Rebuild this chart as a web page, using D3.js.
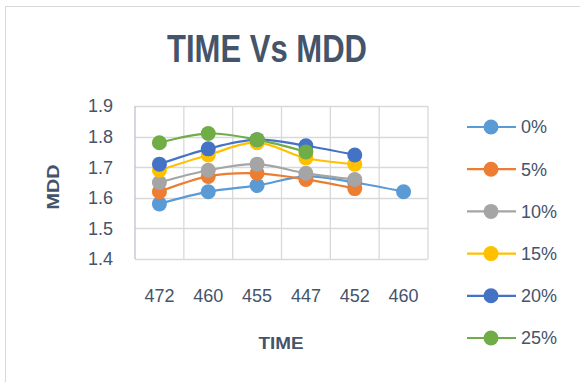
<!DOCTYPE html>
<html>
<head>
<meta charset="utf-8">
<title>TIME Vs MDD</title>
<script src="https://cdn.jsdelivr.net/npm/d3@7"></script>
<style>
  body { margin: 0; background: #fff; }
  text { font-family: "Liberation Sans", Arial, sans-serif; fill: #44546A; }
</style>
</head>
<body>
<svg width="580" height="382"></svg>
<script>
// data
var times = ["472", "460", "455", "447", "452", "460"];
var seriesNames = ["0%", "5%", "10%", "15%", "20%", "25%"];
var colors = ["#5B9BD5", "#ED7D31", "#A5A5A5", "#FFC000", "#4472C4", "#70AD47"];
var mdd0 = [1.58, 1.62, 1.64, 1.67, 1.65, 1.62];
var mdd5 = [1.62, 1.67, 1.68, 1.66, 1.63];
var mdd10 = [1.65, 1.69, 1.71, 1.68, 1.66];
var mdd15 = [1.69, 1.74, 1.78, 1.73, 1.71];
var mdd20 = [1.71, 1.76, 1.79, 1.77, 1.74];
var mdd25 = [1.78, 1.81, 1.79, 1.75];
var yTicks = [1.4, 1.5, 1.6, 1.7, 1.8, 1.9];

var allSeries = [mdd0, mdd5, mdd10, mdd15, mdd20, mdd25];

var svg = d3.select("svg");

// chart frame
svg.append("rect")
  .attr("x", 5.5).attr("y", 6.5)
  .attr("width", 620).attr("height", 420)
  .attr("fill", "none")
  .attr("stroke", "#D9D9D9");

var x = d3.scaleBand()
  .domain(d3.range(times.length))
  .range([135, 428]);

var y = d3.scaleLinear()
  .domain([1.4, 1.9])
  .range([259, 106]);

// gridlines
svg.append("g").selectAll("line.h")
  .data(yTicks)
  .enter().append("line")
  .attr("x1", 135).attr("x2", 428)
  .attr("y1", function(d) { return Math.round(y(d)) + 0.5; })
  .attr("y2", function(d) { return Math.round(y(d)) + 0.5; })
  .attr("stroke", "#D9D9D9").attr("stroke-width", 1.3);

svg.append("g").selectAll("line.v")
  .data(d3.range(times.length + 1))
  .enter().append("line")
  .attr("x1", function(i) { return i < times.length ? x(i) : x.range()[1]; })
  .attr("x2", function(i) { return i < times.length ? x(i) : x.range()[1]; })
  .attr("y1", 106).attr("y2", 259)
  .attr("stroke", function(i) { return i == 0 ? "#BFC5CE" : "#D9D9D9"; })
  .attr("stroke-width", 1.3);

// y tick labels
svg.append("g").selectAll("text")
  .data(yTicks)
  .enter().append("text")
  .attr("x", 113)
  .attr("y", function(d) { return y(d); })
  .attr("dy", "0.36em")
  .attr("text-anchor", "end")
  .attr("font-size", 18)
  .text(function(d) { return d3.format(".1f")(d); });

// x tick labels
svg.append("g").selectAll("text")
  .data(times)
  .enter().append("text")
  .attr("x", function(d, i) { return x(i) + x.bandwidth() / 2; })
  .attr("y", 296)
  .attr("dy", "0.36em")
  .attr("text-anchor", "middle")
  .attr("font-size", 18)
  .text(function(d) { return d; });

// titles
svg.append("text")
  .attr("x", 267).attr("y", 62)
  .attr("text-anchor", "middle")
  .attr("font-size", 38).attr("font-weight", "bold")
  .attr("textLength", 200).attr("lengthAdjust", "spacingAndGlyphs")
  .text("TIME Vs MDD");

svg.append("text")
  .attr("x", 281).attr("y", 343)
  .attr("dy", "0.36em")
  .attr("text-anchor", "middle")
  .attr("font-size", 16).attr("font-weight", "bold")
  .attr("textLength", 45).attr("lengthAdjust", "spacingAndGlyphs")
  .text("TIME");

svg.append("text")
  .attr("transform", "translate(53,187) rotate(-90)")
  .attr("dy", "0.36em")
  .attr("text-anchor", "middle")
  .attr("font-size", 16).attr("font-weight", "bold")
  .attr("textLength", 45).attr("lengthAdjust", "spacingAndGlyphs")
  .text("MDD");

// series
var line = d3.line()
  .x(function(d, i) { return x(i) + x.bandwidth() / 2; })
  .y(function(d) { return y(d); })
  .curve(d3.curveCardinal.tension(0));

allSeries.forEach(function(vals, s) {
  var g = svg.append("g");
  g.append("path")
    .attr("d", line(vals))
    .attr("fill", "none")
    .attr("stroke", colors[s])
    .attr("stroke-width", 2.2);
  g.selectAll("circle")
    .data(vals)
    .enter().append("circle")
    .attr("cx", function(d, i) { return x(i) + x.bandwidth() / 2; })
    .attr("cy", function(d) { return y(d); })
    .attr("r", 7.5)
    .attr("fill", colors[s]);
});

// legend
var legend = svg.append("g").selectAll("g")
  .data(seriesNames)
  .enter().append("g")
  .attr("transform", function(d, i) { return "translate(0," + (127 + i * 42.2) + ")"; });

legend.append("line")
  .attr("x1", 467).attr("x2", 516)
  .attr("stroke", function(d, i) { return colors[i]; })
  .attr("stroke-width", 2.2);

legend.append("circle")
  .attr("cx", 491).attr("r", 7.5)
  .attr("fill", function(d, i) { return colors[i]; });

legend.append("text")
  .attr("x", 521)
  .attr("dy", "0.36em")
  .attr("font-size", 18)
  .text(function(d) { return d; });
</script>
</body>
</html>
